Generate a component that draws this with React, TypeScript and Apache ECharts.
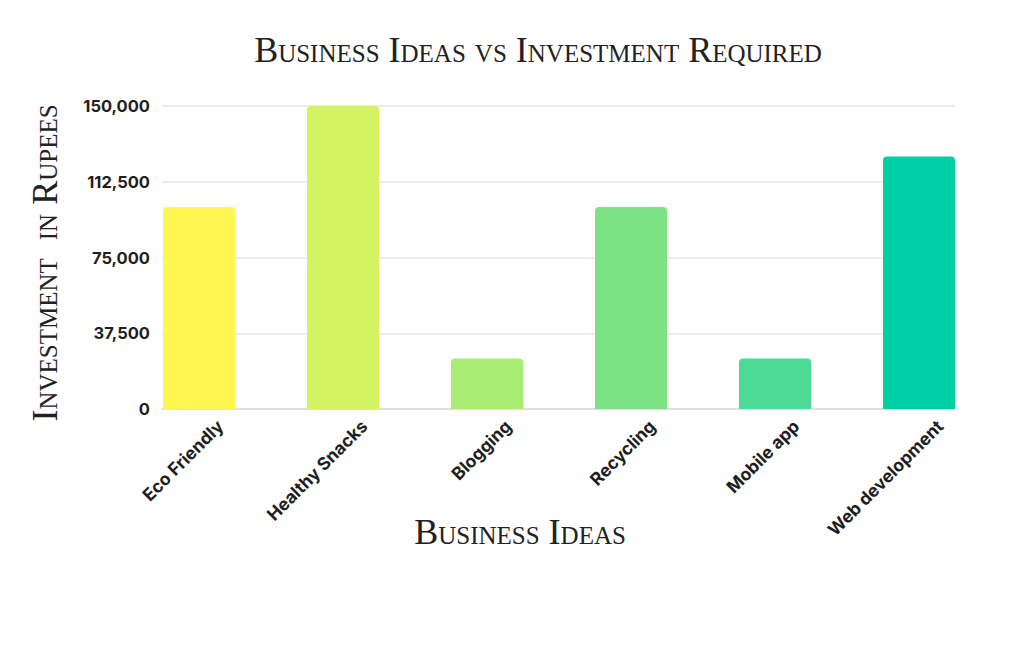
import React, { useEffect, useRef } from 'react';
import * as echarts from 'echarts';

const categories = ['Eco Friendly', 'Healthy Snacks', 'Blogging', 'Recycling', 'Mobile app', 'Web development'];
const investment = [100000, 150000, 25000, 100000, 25000, 125000];
const barColors = ['#FFF651', '#D4F361', '#A8EC74', '#7BE384', '#4DDA96', '#00CFA6'];
const yMax = 150000;
const yStep = 37500;

const chartTitle = 'Business Ideas vs Investment Required';
const xName = 'Business Ideas';
const yName = 'Investment  in Rupees';

// svg renderer writes font-family straight into a style attribute, so small caps can ride along
const serifCaps = 'Liberation Serif; font-variant: small-caps';

const App = () => {
  const chartRef = useRef<HTMLDivElement>(null);

  useEffect(() => {
    if (!chartRef.current) return;
    const chart = echarts.init(chartRef.current, undefined, { renderer: 'svg' });

    const plotTop = 106;
    const plotBottom = 247;

    const option = {
      animation: false,
      backgroundColor: '#ffffff',
      grid: [
        // gridlines + y labels
        { left: 162, right: 69, top: plotTop, bottom: plotBottom },
        // bars
        { left: 127, right: 33, top: plotTop, bottom: plotBottom },
        // rotated category labels sit a little right of the bar centres
        { left: 148, right: 12, top: plotTop, bottom: plotBottom }
      ],
      xAxis: [
        {
          gridIndex: 0,
          type: 'category',
          data: categories,
          axisLine: { lineStyle: { color: '#dcdcdc', width: 1.5 } },
          axisTick: { show: false },
          axisLabel: { show: false }
        },
        {
          gridIndex: 1,
          type: 'category',
          data: categories,
          axisLine: { show: false },
          axisTick: { show: false },
          axisLabel: { show: false }
        },
        {
          gridIndex: 2,
          type: 'category',
          data: categories,
          axisLine: { show: false },
          axisTick: { show: false },
          axisLabel: {
            rotate: 45,
            margin: 14,
            color: '#1e1e1e',
            fontFamily: 'Inter',
            fontWeight: 'bold',
            fontSize: 17.5
          }
        }
      ],
      yAxis: [
        {
          gridIndex: 0,
          type: 'value',
          min: 0,
          max: yMax,
          interval: yStep,
          axisLine: { show: false },
          axisTick: { show: false },
          splitLine: { lineStyle: { color: '#e6e6e6', width: 1.5 } },
          axisLabel: {
            margin: 12,
            color: '#1e1e1e',
            fontFamily: 'Inter',
            fontWeight: 'bold',
            fontSize: 16.5,
            formatter: (v: number) => v.toLocaleString('en-US')
          }
        },
        { gridIndex: 1, type: 'value', min: 0, max: yMax, interval: yStep, show: false },
        { gridIndex: 2, type: 'value', min: 0, max: yMax, interval: yStep, show: false }
      ],
      series: [
        {
          type: 'bar',
          xAxisIndex: 1,
          yAxisIndex: 1,
          barWidth: 72,
          data: investment.map((v, i) => ({
            value: v,
            itemStyle: { color: barColors[i], borderRadius: [4, 4, 0, 0] }
          }))
        }
      ],
      graphic: [
        {
          type: 'text',
          x: 538,
          y: 50,
          style: {
            text: chartTitle,
            fill: '#222',
            fontFamily: serifCaps,
            fontSize: 36,
            textAlign: 'center',
            textVerticalAlign: 'middle'
          }
        },
        {
          type: 'text',
          x: 520,
          y: 532,
          style: {
            text: xName,
            fill: '#222',
            fontFamily: serifCaps,
            fontSize: 36,
            textAlign: 'center',
            textVerticalAlign: 'middle'
          }
        },
        {
          type: 'text',
          x: 45,
          y: 263,
          rotation: Math.PI / 2,
          style: {
            text: yName,
            fill: '#222',
            fontFamily: serifCaps,
            fontSize: 36,
            textAlign: 'center',
            textVerticalAlign: 'middle'
          }
        }
      ]
    };

    chart.setOption(option);

    const handleResize = () => chart.resize();
    window.addEventListener('resize', handleResize);

    return () => {
      window.removeEventListener('resize', handleResize);
      chart.dispose();
    };
  }, []);

  return (
    <div
      ref={chartRef}
      style={{ position: 'fixed', left: 0, top: 0, width: '1024px', height: '656px', background: '#fff' }}
    />
  );
};

export default App;
